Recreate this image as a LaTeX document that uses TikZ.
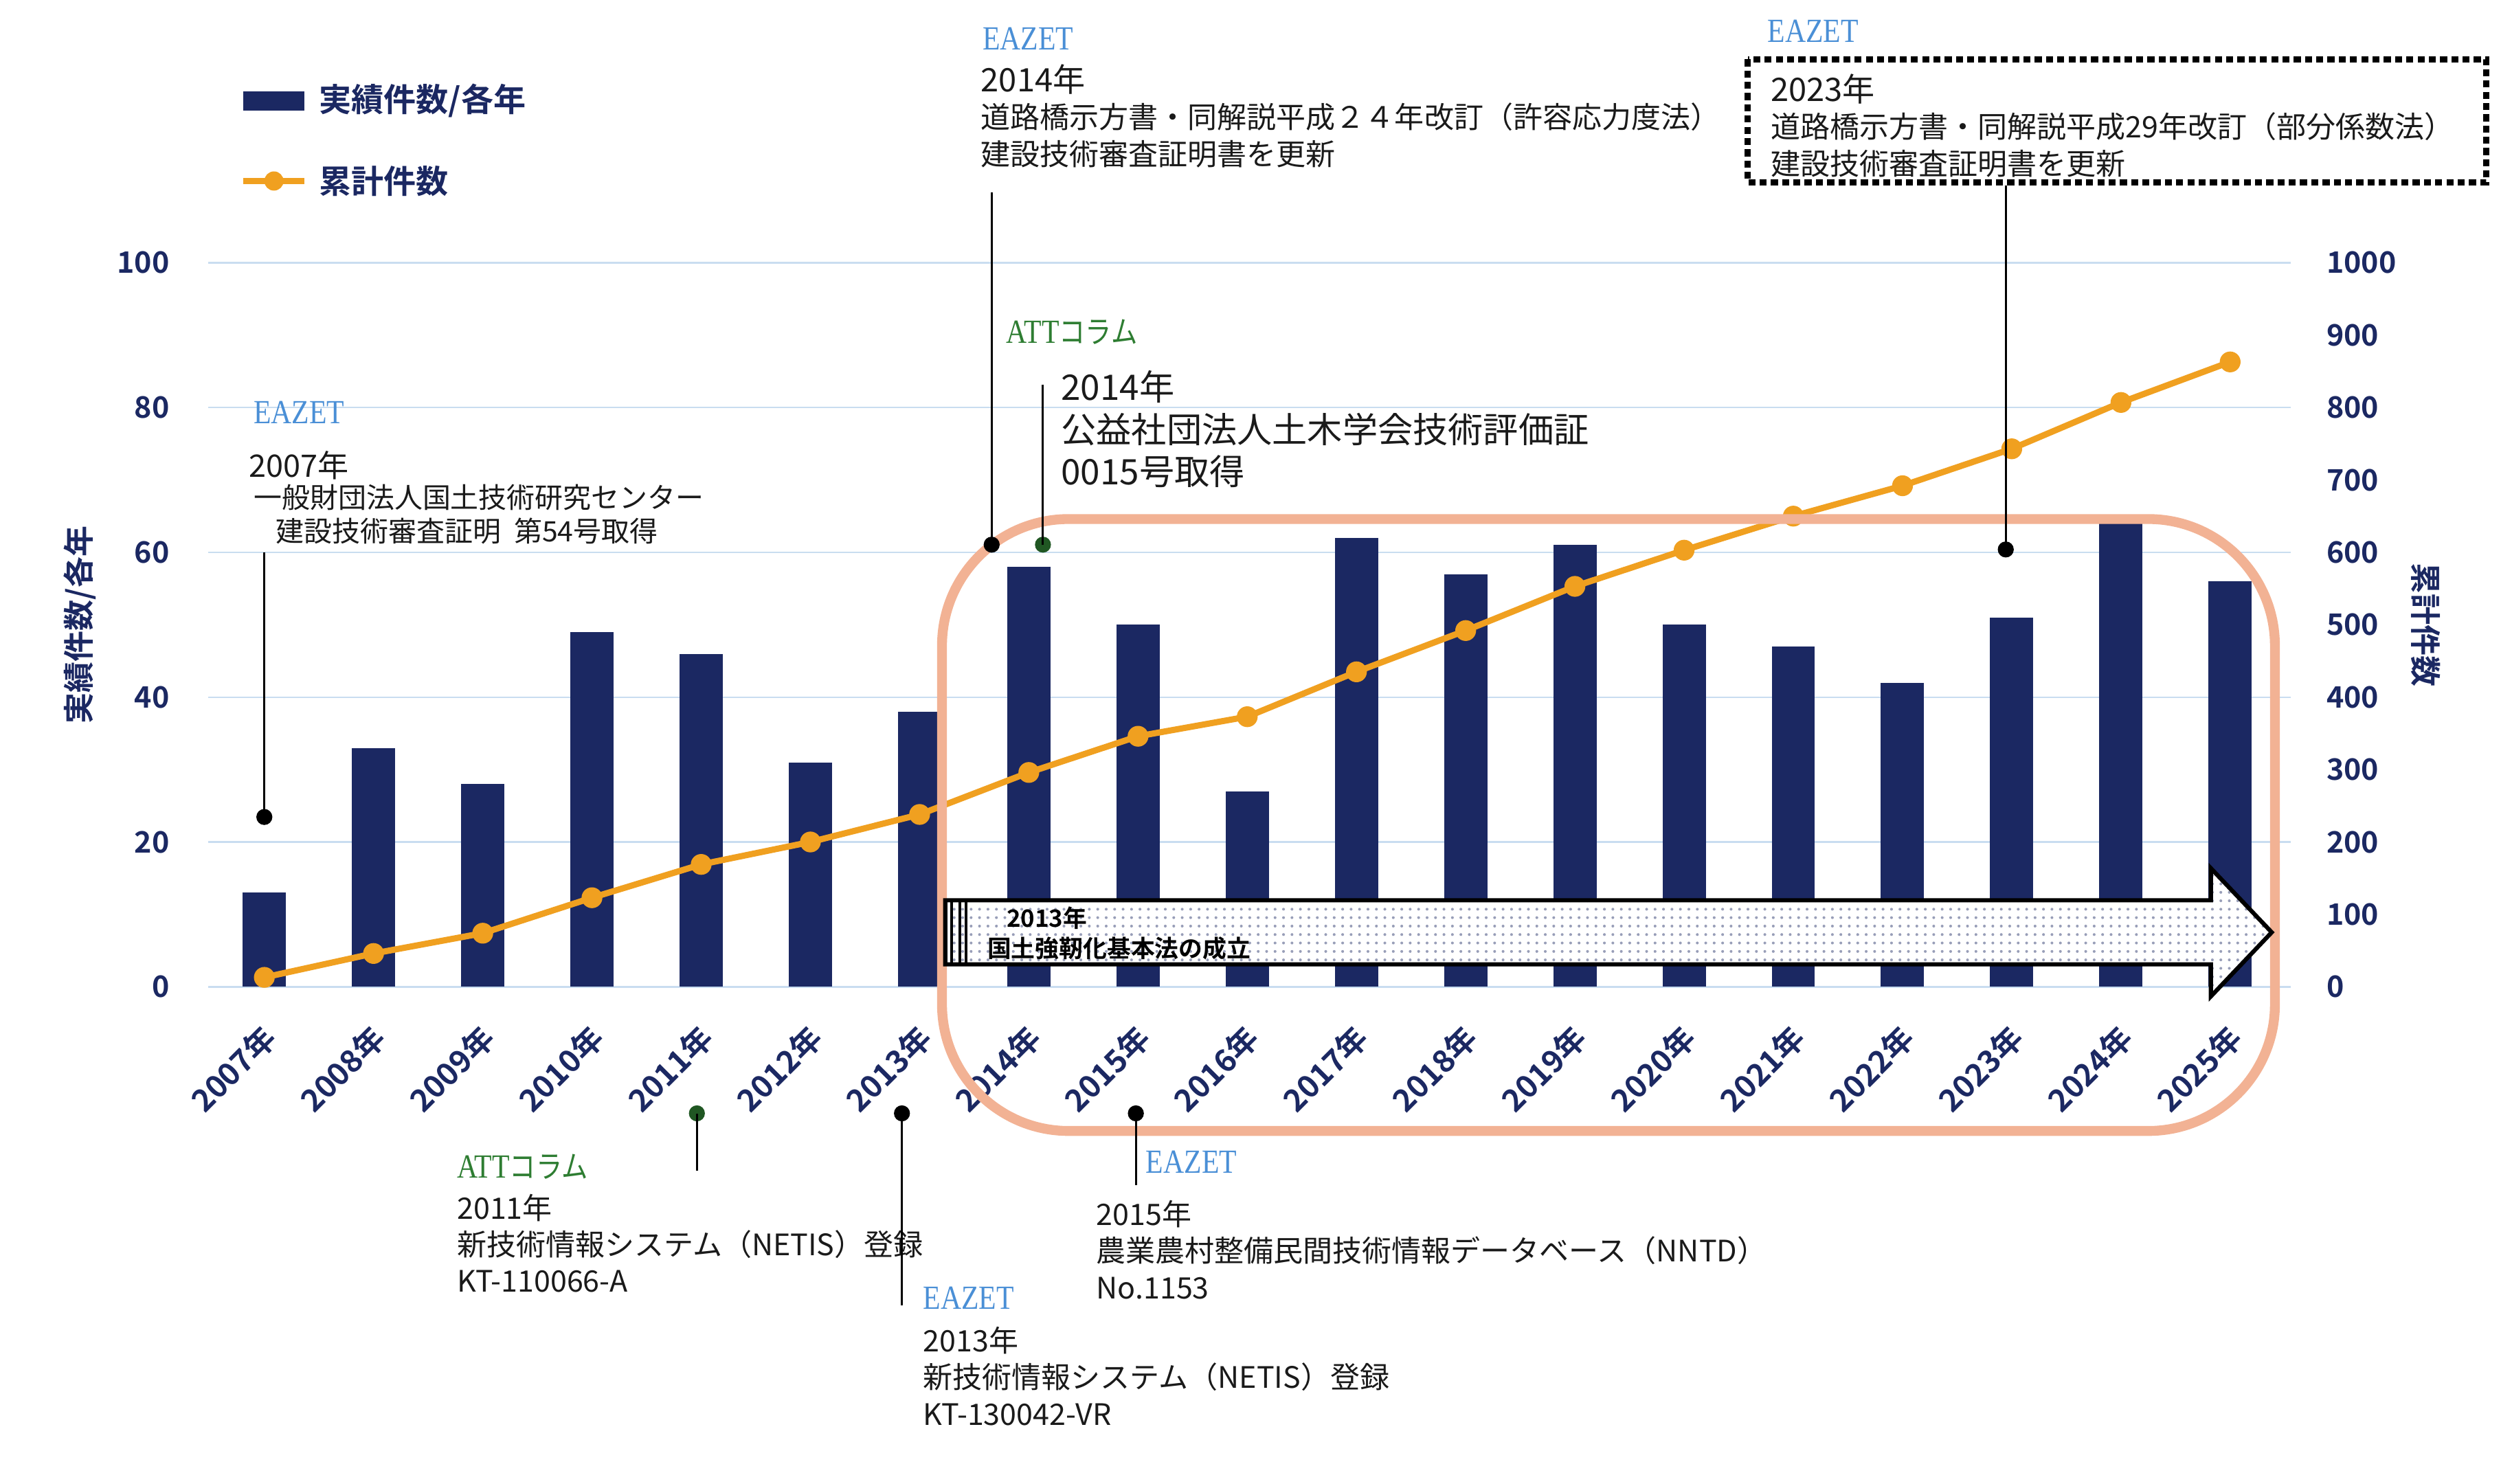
\documentclass[tikz,border=0pt]{standalone}
\usepackage{fontspec}
\setmainfont{Noto Sans CJK JP}[BoldFont={Noto Sans CJK JP Bold}]
\newfontfamily\eaz{Liberation Serif}
\usetikzlibrary{patterns}
\definecolor{navy}{HTML}{1B2862}
\definecolor{org}{HTML}{F0A020}
\definecolor{grid}{HTML}{C9DDF0}
\definecolor{salmon}{HTML}{F2B294}
\definecolor{eblue}{HTML}{4A8FD6}
\definecolor{agreen}{HTML}{2E7D32}
\definecolor{txt}{HTML}{1A1A1A}
\tikzset{
  ann/.style={anchor=north west,inner sep=0,font=\fontsize{10.5}{13}\selectfont,text=txt,align=left},
  tag/.style={anchor=north west,inner sep=0,font=\eaz\fontsize{12}{13}\selectfont,xscale=0.85,transform shape},
  ax/.style={font=\bfseries\fontsize{10.5}{12}\selectfont,text=navy},
  yr/.style={font=\bfseries\fontsize{11}{12}\selectfont,text=navy,rotate=45,anchor=east},
  pin/.style={line width=0.7pt},
}
\begin{document}
\begin{tikzpicture}[x=0.02cm,y=-0.02cm]
\useasboundingbox (0,0) rectangle (1568,926);
% grid
\foreach \v in {0,20,40,60,80,100}{
  \draw[grid,line width=0.6pt] (130,{616-4.52*\v}) -- (1430,{616-4.52*\v});
  \node[ax,anchor=east] (l\v) at (112,{616-4.52*\v}) {\v};
}
\foreach \v in {0,100,...,1000}{
  \node[ax,anchor=west] (r\v) at (1446,{616-0.452*\v}) {\v};
}
% bars
\foreach \v [count=\i from 0] in {13,33,28,49,46,31,38,58,50,27,62,57,61,50,47,42,51,64,56}{
  \pgfmathsetmacro\xc{165+68.17*\i}
  \fill[navy] (\xc-13.5,616) rectangle (\xc+13.5,{616-4.52*\v});
  \pgfmathtruncatemacro\yy{2007+\i}
  \node[yr] (y\i) at (\xc+8,640) {\yy 年};
}
% cumulative line
\draw[org,line width=2.2pt,line join=round]
 \foreach \c [count=\i from 0] in {13,46,74,123,169,200,238,296,346,373,435,492,553,603,650,692,743,807,863}{
   \ifnum\i=0 (165,{616-0.452*\c}) \else -- ({165+68.17*\i},{616-0.452*\c}) \fi };
\foreach \c [count=\i from 0] in {13,46,74,123,169,200,238,296,346,373,435,492,553,603,650,692,743,807,863}{
  \fill[org] ({165+68.17*\i},{616-0.452*\c}) circle (6.5);
}
% axis titles
\node[ax,rotate=90,font=\bfseries\fontsize{11}{12}\selectfont] (lt) at (50,390) {実績件数/各年};
\node[ax,rotate=-90,font=\bfseries\fontsize{11}{12}\selectfont] (rt) at (1514,390) {累計件数};
% legend
\fill[navy] (152,57) rectangle (190,69);
\node[ax,anchor=west,font=\bfseries\fontsize{11.5}{12}\selectfont] (lg1) at (193,63) {実績件数/各年};
\draw[org,line width=2.2pt] (152,113) -- (190,113);
\fill[org] (171,113) circle (6);
\node[ax,anchor=west,font=\bfseries\fontsize{11.5}{12}\selectfont] (lg2) at (193,113) {累計件数};
% salmon frame
\draw[salmon,line width=3.5pt,rounded corners=45] (588,324) rectangle (1420,706);
% arrow
\path[fill=white] (590,562) -- (1380,562) -- (1380,542) -- (1418,582) -- (1380,622) -- (1380,602) -- (590,602) -- cycle;
\path[pattern=dots,pattern color=navy!45] (590,562) -- (1380,562) -- (1380,542) -- (1418,582) -- (1380,622) -- (1380,602) -- (590,602) -- cycle;
\draw[black,line width=1.5pt] (590,562) -- (1380,562) -- (1380,542) -- (1418,582) -- (1380,622) -- (1380,602) -- (590,602) -- cycle;
\draw[line width=1pt] (594,562) -- (594,602) (599,562) -- (599,602) (603,562)--(603,602);
\node[anchor=west,inner sep=0,font=\bfseries\fontsize{8.5}{10}\selectfont] (ar1) at (628,573) {2013年};
\node[anchor=west,inner sep=0,font=\bfseries\fontsize{8.5}{10}\selectfont] (ar2) at (616,592) {国土強靭化基本法の成立};
% annotation 2007
\node[tag,text=eblue] (t1) at (158,250) {EAZET};
\node[ann,font=\fontsize{11}{13}\selectfont] (a1) at (155,281) {2007年};
\node[ann,font=\fontsize{10}{13}\selectfont] (a1b) at (158,302) {一般財団法人国土技術研究センター\\[-1pt]\hspace*{0.8em}建設技術審査証明\ \ 第54号取得};
\coordinate (p1) at (165,345);
\fill (165,510) circle (5) coordinate (d1);
\draw[pin] (p1) -- (d1);
% annotation 2014 top
\node[tag,text=eblue] (t2) at (613,17) {EAZET};
\node[ann,font=\fontsize{11.5}{13}\selectfont] (a2) at (612,40) {2014年};
\node[ann] (a2b) at (612,64) {道路橋示方書・同解説平成２４年改訂（許容応力度法）\\建設技術審査証明書を更新};
\coordinate (p2) at (619,120);
\fill (619,340) circle (5) coordinate (d2);
\draw[pin] (p2) -- (d2);
% ATT 2014
\node[tag,text=agreen] (t3) at (628,199) {ATT{\rmfamily\fontsize{11}{13}\selectfont コラム}};
\node[ann,font=\fontsize{12.5}{15}\selectfont] (a3) at (662,231) {2014年\\公益社団法人土木学会技術評価証\\0015号取得};
\coordinate (p3) at (651,240);
\fill[agreen!70!black] (651,340) circle (5) coordinate (d3);
\draw[pin] (p3) -- (d3);
% 2023 box
\node[tag,text=eblue] (t4) at (1103,12) {EAZET};
\draw[line width=2.2pt,dash pattern=on 2.5pt off 1.5pt] (1091,37) rectangle (1552,114);
\node[ann,font=\fontsize{11.5}{13}\selectfont] (a4) at (1105,46) {2023年};
\node[ann] (a4b) at (1105,70) {道路橋示方書・同解説平成29年改訂（部分係数法）\\建設技術審査証明書を更新};
\coordinate (p4) at (1252,116);
\fill (1252,343) circle (5) coordinate (d4);
\draw[pin] (p4) -- (d4);
% bottom ATT 2011
\fill[agreen!70!black] (435,695) circle (5) coordinate (d5);
\coordinate (p5) at (435,731);
\draw[pin] (d5) -- (p5);
\node[tag,text=agreen] (t5) at (285,720) {ATT{\rmfamily\fontsize{11}{13}\selectfont コラム}};
\node[ann] (a5) at (285,745) {2011年\\新技術情報システム（NETIS）登録\\KT-110066-A};
% bottom 2013
\fill (563,695) circle (5) coordinate (d6);
\coordinate (p6) at (563,815);
\draw[pin] (d6) -- (p6);
\node[tag,text=eblue] (t6) at (576,803) {EAZET};
\node[ann] (a6) at (576,828) {2013年\\新技術情報システム（NETIS）登録\\KT-130042-VR};
% bottom 2015
\fill (709,695) circle (5) coordinate (d7);
\coordinate (p7) at (709,740);
\draw[pin] (d7) -- (p7);
\node[tag,text=eblue] (t7) at (715,718) {EAZET};
\node[ann] (a7) at (684,749) {2015年\\農業農村整備民間技術情報データベース（NNTD）\\No.1153};
\end{tikzpicture}
\end{document}
